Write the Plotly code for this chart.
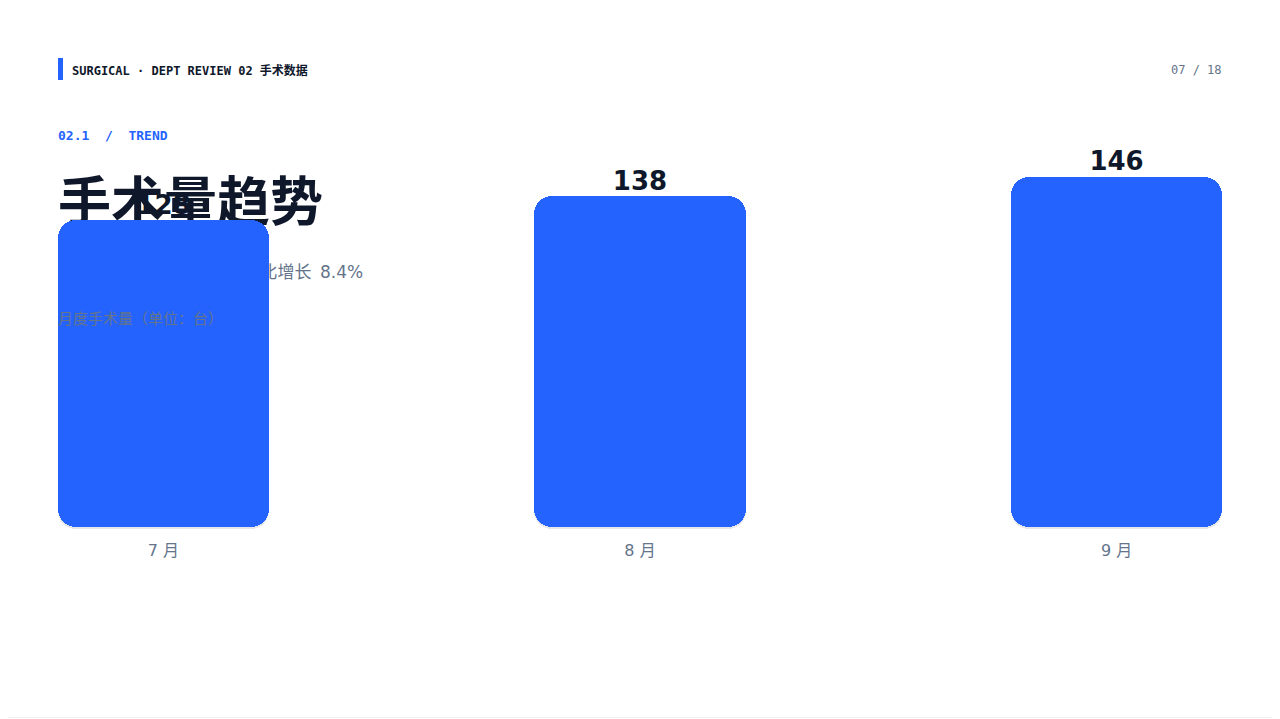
import plotly.graph_objects as go

# ---- data ----
months = ["7 月", "8 月", "9 月"]
surgeries = [128, 138, 146]

header_left = "SURGICAL · DEPT REVIEW 02"
header_cn = "手术数据"
page_no = "07 / 18"
section = "02.1\u00a0\u00a0/\u00a0\u00a0TREND"
title = "手术量趋势"
subtitle = "三季度累计手术412台，环比增长\u20028.4%"
unit_note = "月度手术量（单位：台）"

# ---- styling ----
W, H = 1280, 719
OFF = 8  # page body margin offset
# plot area in page pixels
P_L, P_R, P_T, P_B = 58, 1222, 100, 539
ML, MR = P_L - OFF, W - (P_R - OFF)
MT, MB = P_T - OFF, H - (P_B - OFF)
PW, PH = P_R - P_L, P_B - P_T
BLUE = "#2563FF"
NAVY = "#0F172A"
GRAY = "#64748B"
SANS = "DejaVu Sans, Noto Sans CJK SC, sans-serif"
MONO = "DejaVu Sans Mono, Noto Sans CJK SC, monospace"

XR = [-0.2213, 2.2213]
YR = [-5.0, 178.1]


def px(x):
    return (x - P_L) / PW


def py(y):
    return (P_B - y) / PH


fig = go.Figure()

# layer 1 (x/y): value labels
fig.add_trace(go.Scatter(
    x=months, y=surgeries, mode="text",
    text=[str(v) for v in surgeries], textposition="top center",
    textfont=dict(family=SANS, size=26, color=NAVY, weight="bold"),
    cliponaxis=False, hoverinfo="skip", showlegend=False,
    xaxis="x", yaxis="y",
))

# layer 2 (x2/y2): title + subtitle (page pixel coordinates)
fig.add_trace(go.Scatter(
    x=[58], y=[208], mode="text", text=[title], textposition="middle right",
    textfont=dict(family=SANS, size=53, color=NAVY, weight="bold"),
    cliponaxis=False, hoverinfo="skip", showlegend=False,
    xaxis="x2", yaxis="y2",
))
fig.add_trace(go.Scatter(
    x=[58], y=[274], mode="text", text=[subtitle], textposition="middle right",
    textfont=dict(family=SANS, size=17, color=GRAY),
    cliponaxis=False, hoverinfo="skip", showlegend=False,
    xaxis="x2", yaxis="y2",
))

# layer 3 (x3/y3): bars (two halves so all four corners are rounded)
shadow_off = 1.0
SHADOW = "rgba(15,23,42,0.10)"
fig.add_trace(go.Bar(
    x=months, y=[v * 0.6 for v in surgeries], base=[v * 0.4 - shadow_off for v in surgeries],
    width=0.443, marker=dict(color=SHADOW, cornerradius=18, line=dict(width=0)),
    hoverinfo="skip", showlegend=False, xaxis="x3", yaxis="y3",
))
fig.add_trace(go.Bar(
    x=months, y=[-v * 0.6 for v in surgeries], base=[v * 0.6 - shadow_off for v in surgeries],
    width=0.443, marker=dict(color=SHADOW, cornerradius=18, line=dict(width=0)),
    hoverinfo="skip", showlegend=False, xaxis="x3", yaxis="y3",
))
fig.add_trace(go.Bar(
    x=months, y=[v * 0.6 for v in surgeries], base=[v * 0.4 for v in surgeries],
    width=0.443, marker=dict(color=BLUE, cornerradius=18, line=dict(width=0)),
    hoverinfo="skip", showlegend=False, xaxis="x3", yaxis="y3",
))
fig.add_trace(go.Bar(
    x=months, y=[-v * 0.6 for v in surgeries], base=[v * 0.6 for v in surgeries],
    width=0.443, marker=dict(color=BLUE, cornerradius=18, line=dict(width=0)),
    hoverinfo="skip", showlegend=False, xaxis="x3", yaxis="y3",
))

ann = []
ann.append(dict(x=px(72), y=py(70), xref="paper", yref="paper", xanchor="left", yanchor="middle",
                text=header_left + " " + header_cn, showarrow=False,
                font=dict(family=MONO, size=12, color=NAVY, weight="bold")))
ann.append(dict(x=px(1222), y=py(70), xref="paper", yref="paper", xanchor="right", yanchor="middle",
                text=page_no, showarrow=False,
                font=dict(family=MONO, size=12, color=GRAY)))
ann.append(dict(x=px(58), y=py(135), xref="paper", yref="paper", xanchor="left", yanchor="middle",
                text=section, showarrow=False,
                font=dict(family=MONO, size=13, color=BLUE, weight="bold")))
ann.append(dict(x=px(58), y=py(319), xref="paper", yref="paper", xanchor="left", yanchor="middle",
                text=unit_note, showarrow=False,
                font=dict(family=SANS, size=15, color=GRAY)))
for a in ann:
    a["xshift"] = -2 if a["xanchor"] == "left" else 2

shapes = [
    dict(type="rect", xref="paper", yref="paper", x0=px(58), x1=px(63), y0=py(80), y1=py(58),
         fillcolor=BLUE, line=dict(width=0)),
    dict(type="line", xref="paper", yref="paper", x0=px(1279.5), x1=px(1279.5), y0=py(0), y1=py(719),
         line=dict(color="#E5E7EB", width=1)),
    dict(type="line", xref="paper", yref="paper", x0=px(0), x1=px(1280), y0=py(717.5), y1=py(717.5),
         line=dict(color="#EEF0F3", width=1)),
]

axis_off = dict(showgrid=False, zeroline=False, showline=False, showticklabels=False, ticks="")

fig.update_layout(
    width=W, height=H,
    margin=dict(l=ML, r=MR, t=MT, b=MB, pad=0),
    paper_bgcolor="white", plot_bgcolor="rgba(0,0,0,0)",
    barmode="overlay", bargap=0,
    showlegend=False, hovermode=False,
    xaxis=dict(type="category", categoryorder="array", categoryarray=months, range=XR,
               showgrid=False, zeroline=False, showline=False, ticks="",
               tickfont=dict(family=SANS, size=16, color=GRAY), fixedrange=True),
    yaxis=dict(range=YR, **axis_off, fixedrange=True),
    xaxis2=dict(range=[P_L, P_R], overlaying="x", **axis_off, fixedrange=True),
    yaxis2=dict(range=[P_B, P_T], overlaying="y", **axis_off, fixedrange=True),
    xaxis3=dict(type="category", categoryorder="array", categoryarray=months, range=XR,
                overlaying="x", **axis_off, fixedrange=True),
    yaxis3=dict(range=YR, overlaying="y", **axis_off, fixedrange=True),
    annotations=ann, shapes=shapes,
)

fig.write_html("out.html", config={"displayModeBar": False})
